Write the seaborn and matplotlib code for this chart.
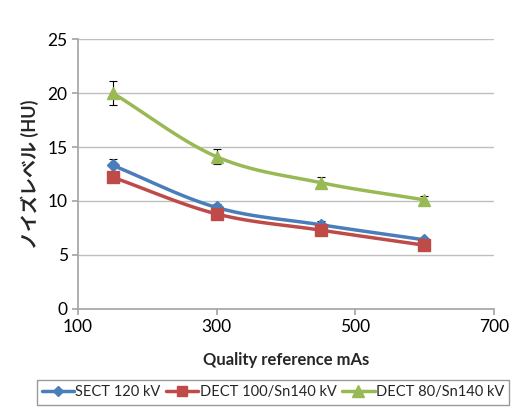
import numpy as np
import pandas as pd
import seaborn as sns
import matplotlib.pyplot as plt
from matplotlib.lines import Line2D

mas = [150, 300, 450, 600]
sect_120 = [13.3, 9.4, 7.8, 6.4]
sect_120_err = [0.6, 0.3, 0.3, 0.2]
dect_100 = [12.2, 8.8, 7.3, 5.9]
dect_100_err = [0.3, 0.3, 0.2, 0.2]
dect_80 = [20.0, 14.1, 11.7, 10.1]
dect_80_err = [1.1, 0.7, 0.5, 0.4]
labels = ['SECT 120 kV', 'DECT 100/Sn140 kV', 'DECT 80/Sn140 kV']
colors = ['#4A7EBB', '#BE4B48', '#98B954']
markers = ['D', 's', '^']
msizes = [6, 8, 9]


def smooth(x, y, n=30):
    # catmull-rom style curve, like excel's smoothed line
    x = np.asarray(x, float)
    y = np.asarray(y, float)
    px = np.concatenate([[2 * x[0] - x[1]], x, [2 * x[-1] - x[-2]]])
    py = np.concatenate([[2 * y[0] - y[1]], y, [2 * y[-1] - y[-2]]])
    xs, ys = [], []
    t = np.linspace(0, 1, n)
    for i in range(1, len(px) - 2):
        for p, out in ((px, xs), (py, ys)):
            p0, p1, p2, p3 = p[i - 1], p[i], p[i + 1], p[i + 2]
            out.extend(0.5 * (2 * p1 + (-p0 + p2) * t
                              + (2 * p0 - 5 * p1 + 4 * p2 - p3) * t ** 2
                              + (-p0 + 3 * p1 - 3 * p2 + p3) * t ** 3))
    return np.array(xs), np.array(ys)


sns.set_theme(style='white')
plt.rcParams['font.family'] = ['Lato', 'Noto Sans CJK JP', 'DejaVu Sans']

fig, ax = plt.subplots(figsize=(5.17, 4.07), dpi=100)
fig.subplots_adjust(left=0.151, right=0.955, top=0.904, bottom=0.241)

series = [(sect_120, sect_120_err), (dect_100, dect_100_err), (dect_80, dect_80_err)]
handles = []
for (vals, errs), lab, c, m, ms in zip(series, labels, colors, markers, msizes):
    sx, sy = smooth(mas, vals)
    df = pd.DataFrame({'mAs': sx, 'noise': sy})
    sns.lineplot(data=df, x='mAs', y='noise', color=c, lw=2.5, ax=ax, sort=False)
    ax.errorbar(mas, vals, yerr=errs, fmt=m, color=c, ms=ms, ecolor='black',
                elinewidth=0.8, capsize=3, capthick=0.8, zorder=3)
    handles.append(Line2D([0], [0], color=c, lw=2.5, marker=m, ms=ms - 1))

ax.set_xlim(100, 700)
ax.set_ylim(0, 25)
ax.set_xticks([100, 300, 500, 700])
ax.set_yticks([0, 5, 10, 15, 20, 25])
ax.yaxis.grid(True, color='#BFBFBF', lw=1)
for s in ['top', 'right']:
    ax.spines[s].set_visible(False)
for s in ['left', 'bottom']:
    ax.spines[s].set_color('#A6A6A6')
ax.tick_params(axis='both', labelsize=12.5, length=4, direction='out',
               left=True, bottom=True, labelcolor='black', color='#A6A6A6')
ax.set_xlabel('Quality reference mAs', fontsize=12, fontweight='bold', labelpad=12)
ax.set_ylabel('ノイズレベル (HU)', fontsize=13, fontweight='bold', labelpad=6)

leg = fig.legend(handles, labels, loc='lower center', bbox_to_anchor=(0.528, -0.012),
                 ncol=3, fontsize=10.5, frameon=True, fancybox=False,
                 handlelength=2.2, handletextpad=0.1, columnspacing=0.4,
                 borderpad=0.35, edgecolor='#808080')
leg.get_frame().set_linewidth(1)

fig.savefig('out.png', dpi=100)
